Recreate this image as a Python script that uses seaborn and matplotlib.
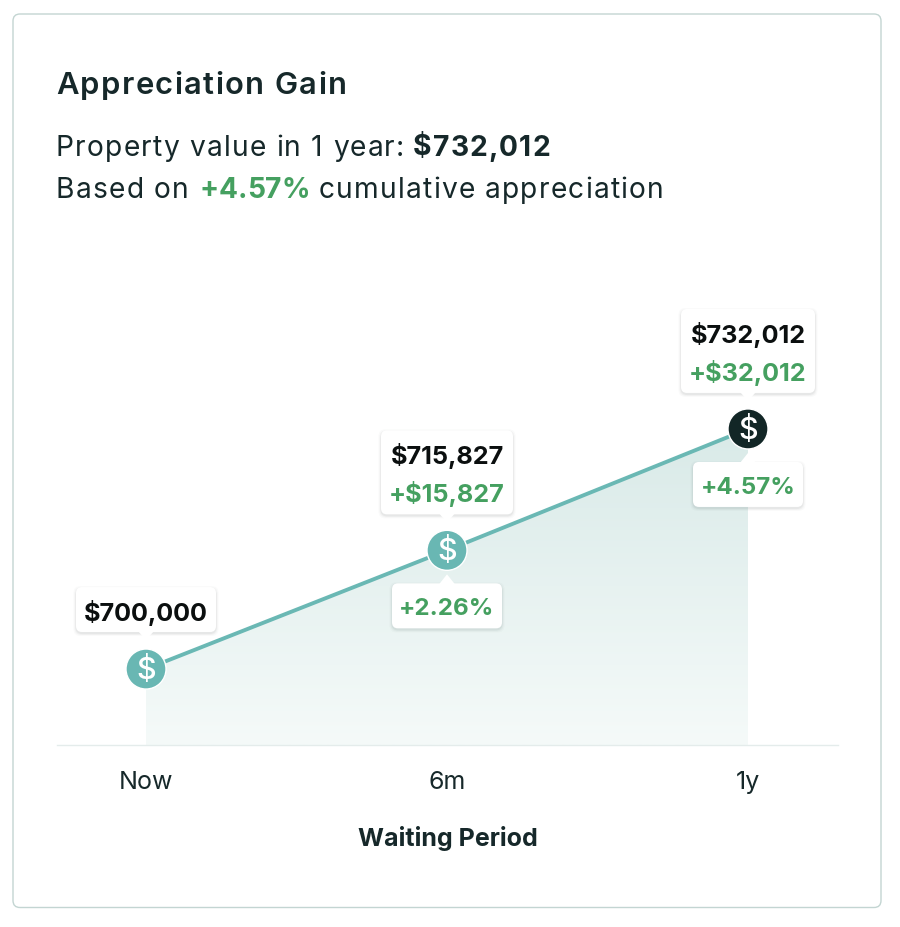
import matplotlib
matplotlib.use("Agg")
import matplotlib.pyplot as plt
import numpy as np
import pandas as pd
import seaborn as sns
from matplotlib.patches import FancyBboxPatch, Polygon

periods = ["Now", "6m", "1y"]
values = [700000, 715827, 732012]
gains = [None, "+$15,827", "+$32,012"]
value_labels = ["$700,000", "$715,827", "$732,012"]
pct_labels = [None, "+2.26%", "+4.57%"]
marker_colors = ["#69b7b3", "#69b7b3", "#122626"]

INK = "#16282a"
GREEN = "#45a060"
TEAL = "#6ab8b4"

W, H = 900, 928
sns.set_theme(style="white")
plt.rcParams["font.family"] = ["Inter", "DejaVu Sans"]

fig = plt.figure(figsize=(W / 100, H / 100), dpi=100, facecolor="white")

def px_axes(z):
    a = fig.add_axes([0, 0, 1, 1], zorder=z)
    a.set_xlim(0, W)
    a.set_ylim(H, 0)
    a.axis("off")
    return a

back = px_axes(0)
back.add_patch(FancyBboxPatch((13, 15), 868, 893.5, boxstyle="round,pad=0,rounding_size=7",
                              fc="white", ec="#c3d5d2", lw=1.0))

# Plot area: baseline at pixel row 746, spanning 57..838
left, right, bottom, top = 57, 838, 746, 261
ax = fig.add_axes([left / W, 1 - bottom / H, (right - left) / W, (bottom - top) / H], zorder=1)
ax.patch.set_alpha(0)
xpos = np.arange(len(periods))
df = pd.DataFrame({"x": xpos, "value": values})
ax.set_xlim(-0.2957, 2.299)
ax.set_ylim(689870, 754540)

# Vertical gradient under the line
ymin, ymax = ax.get_ylim()
grad = np.linspace(0, 1, 256).reshape(-1, 1)
c_top = np.array([0xd9, 0xea, 0xe8]) / 255
c_bot = np.array([0xf5, 0xfa, 0xf9]) / 255
span_top = values[-1]
img = c_top[None, None, :] * (1 - grad[..., None]) + c_bot[None, None, :] * grad[..., None]
im = ax.imshow(img, extent=[xpos[0], xpos[-1], ymin, span_top], aspect="auto", zorder=1,
               interpolation="bilinear")
clip = Polygon(list(zip(xpos, values)) + [(xpos[-1], ymin), (xpos[0], ymin)],
               closed=True, transform=ax.transData, fc="none", ec="none")
ax.add_patch(clip)
im.set_clip_path(clip)
ax.set_xlim(-0.2957, 2.299)
ax.set_ylim(ymin, ymax)

sns.lineplot(data=df, x="x", y="value", color=TEAL, lw=2.8, ax=ax, zorder=2)
sns.scatterplot(data=df, x="x", y="value", hue="x", palette=marker_colors, legend=False,
                s=830, edgecolor="white", linewidth=1.0, ax=ax, zorder=3)

ax.set_xticks(xpos, periods)
ax.set_yticks([])
ax.set_ylabel("")
ax.tick_params(axis="x", length=0, pad=18, labelsize=18, labelcolor=INK)
ax.set_xlabel("Waiting Period", fontsize=18, fontweight="bold", color=INK, labelpad=23)
for name in ("top", "left", "right"):
    ax.spines[name].set_visible(False)
ax.spines["bottom"].set_color("#e4eceb")
ax.spines["bottom"].set_linewidth(1)

over = px_axes(2)
renderer = fig.canvas.get_renderer()

def tracked(x, y, s, tracking=1.2, **kw):
    """Left-aligned text with extra letter spacing, drawn one glyph at a time."""
    probe = over.text(0, 0, "", **kw)
    for i, ch in enumerate(s):
        probe.set_text(s[:i] + "|")
        full = probe.get_window_extent(renderer).width
        probe.set_text("|")
        bar = probe.get_window_extent(renderer).width
        offset = full - bar if i else 0
        over.text(x + offset + i * tracking, y, ch, **kw)
    probe.remove()

def tooltip(cx, box_top, box_bot, half_w, tip_y, base_y):
    """White rounded box with a small pointer and a soft drop shadow."""
    for grow, alpha in ((2.5, 0.025), (1.5, 0.04), (0.6, 0.06)):
        over.add_patch(FancyBboxPatch((cx - half_w - grow, box_top - grow + 1.5),
                                      2 * half_w + 2 * grow, box_bot - box_top + 2 * grow,
                                      boxstyle="round,pad=0,rounding_size=7",
                                      fc="#30403f", ec="none", alpha=alpha, zorder=4))
    over.add_patch(FancyBboxPatch((cx - half_w, box_top), 2 * half_w, box_bot - box_top,
                                  boxstyle="round,pad=0,rounding_size=6",
                                  fc="white", ec="none", zorder=5))
    over.add_patch(Polygon([(cx - 8, base_y), (cx + 8, base_y), (cx, tip_y)], closed=True,
                           fc="white", ec="none", zorder=5))

LABEL = dict(fontsize=18.2, fontweight="bold", ha="center", va="center", zorder=6)
PCT = dict(LABEL, fontsize=17.4)

for i, (xp, v) in enumerate(zip(xpos, values)):
    dx, dy = ax.transData.transform((xp, v))
    cx, cy = dx, H - dy
    # Dollar glyph inside the marker
    over.text(cx, cy + 0.5, "$", color="white", fontsize=22, ha="center", va="center",
              fontweight="medium", zorder=6)
    half_w = {0: 70, 1: 66, 2: 67}[i]
    if gains[i] is None:
        tooltip(cx, cy - 82, cy - 37, half_w, cy - 29, cy - 38)
        over.text(cx, cy - 57, value_labels[i], color="#0b0f0f", **LABEL)
    else:
        tooltip(cx, cy - 120, cy - 36, half_w, cy - 28, cy - 37)
        over.text(cx, cy - 95, value_labels[i], color="#0b0f0f", **LABEL)
        over.text(cx, cy - 57, gains[i], color=GREEN, **LABEL)
    if pct_labels[i] is not None:
        tooltip(cx, cy + 33, cy + 78, 55, cy + 24, cy + 34)
        over.text(cx, cy + 58, pct_labels[i], color=GREEN, **PCT)

# Card heading
tracked(56, 86, "Appreciation Gain", tracking=1.4, color=INK, fontsize=22.3, fontweight="semibold", va="center")
tracked(56, 148, "Property value in 1 year:", color=INK, fontsize=20.3, va="center")
tracked(413, 148, "$732,012", color=INK, fontsize=20.3, fontweight="bold", va="center")
tracked(56, 190, "Based on", color=INK, fontsize=20.3, va="center")
tracked(199, 190, "+4.57%", tracking=0.1, color=GREEN, fontsize=20.3, fontweight="bold", va="center")
tracked(319, 190, "cumulative appreciation", color=INK, fontsize=20.3, va="center")

fig.savefig("out.png", dpi=100, facecolor="white")
